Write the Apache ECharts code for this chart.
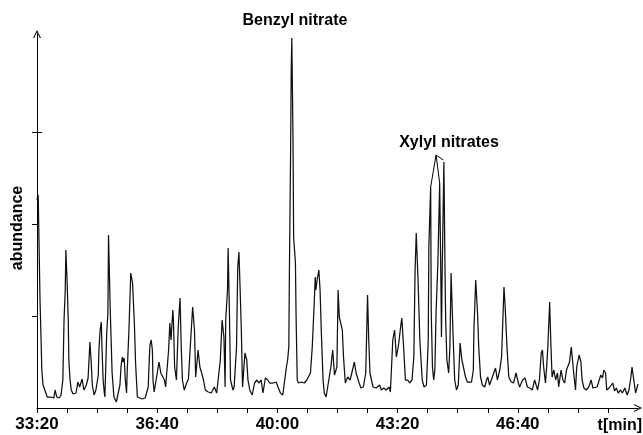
<!DOCTYPE html>
<html>
<head>
<meta charset="utf-8">
<script src="https://cdn.jsdelivr.net/npm/echarts@6/dist/echarts.min.js"></script>
<style>html,body{margin:0;padding:0;background:#fff}#c{width:643px;height:435px}</style>
</head>
<body>
<div id="c"></div>
<script>
// retention time in seconds
var times = [2000,2002,2003,2005,2007,2008,2010,2013,2017,2020,2023,2028,2030,2033,2037,2040,2043,2045,2047,2048,2050,2052,2053,2055,2057,2060,2065,2068,2071,2075,2078,2082,2085,2087,2088,2090,2092,2095,2098,2102,2103,2105,2107,2108,2110,2112,2113,2116,2118,2119,2122,2125,2128,2132,2138,2140,2142,2143,2145,2147,2149,2150,2153,2156,2159,2162,2164,2167,2170,2175,2180,2183,2185,2187,2188,2190,2192,2193,2195,2198,2203,2206,2209,2212,2214,2219,2221,2223,2226,2227,2229,2232,2235,2238,2240,2242,2245,2249,2252,2255,2259,2262,2264,2268,2271,2274,2277,2280,2285,2290,2295,2299,2305,2308,2311,2313,2314,2317,2318,2320,2322,2326,2328,2332,2334,2336,2338,2340,2342,2346,2349,2351,2354,2358,2362,2366,2369,2373,2376,2380,2384,2387,2389,2393,2398,2401,2405,2409,2415,2417,2419,2420,2422,2423,2424,2426,2427,2430,2431,2433,2435,2440,2445,2449,2452,2455,2458,2461,2463,2464,2466,2469,2471,2473,2476,2478,2481,2484,2489,2492,2495,2499,2501,2503,2506,2508,2510,2513,2517,2521,2525,2528,2531,2536,2539,2543,2547,2550,2552,2554,2559,2564,2570,2573,2577,2581,2586,2588,2592,2595,2598,2602,2605,2607,2610,2613,2617,2620,2624,2627,2629,2631,2634,2637,2641,2644,2648,2651,2652,2655,2656,2658,2660,2662,2664,2667,2670,2672,2673,2674,2677,2679,2680,2682,2685,2687,2689,2692,2695,2698,2701,2704,2707,2710,2713,2716,2719,2723,2726,2727,2730,2733,2735,2738,2741,2745,2748,2750,2753,2756,2760,2763,2766,2770,2773,2777,2779,2782,2785,2789,2793,2797,2801,2803,2808,2812,2816,2820,2824,2828,2831,2833,2836,2839,2841,2843,2846,2848,2850,2853,2855,2857,2860,2863,2866,2868,2872,2875,2878,2881,2883,2886,2889,2891,2893,2896,2898,2902,2905,2907,2910,2914,2918,2922,2925,2928,2932,2935,2938,2941,2943,2946,2948,2952,2955,2958,2961,2964,2967,2971,2974,2978,2982,2985,2988,2990,2993,2996,2998,3000];
// abundance (arbitrary units)
var abundance = [208,213,178,108,63,38,23,18,11,9,11,10,18,11,10,13,28,88,118,158,128,88,48,28,18,14,15,26,21,29,18,23,30,53,66,48,23,13,18,33,58,78,86,63,28,15,11,75,95,173,95,35,11,6,23,43,51,46,50,28,15,35,78,135,125,85,45,11,10,9,10,9,21,51,63,68,58,28,16,15,46,35,36,28,21,58,85,68,98,88,41,28,81,110,61,28,18,25,29,61,101,78,31,58,41,35,28,18,16,15,21,15,48,88,71,21,88,118,160,101,28,18,21,61,141,156,118,78,21,55,48,28,18,13,25,28,25,28,15,30,28,25,26,25,26,21,15,13,41,48,61,138,258,338,370,268,171,145,95,28,25,26,25,28,26,35,61,101,131,118,128,138,118,78,28,15,11,13,41,58,33,41,118,91,90,78,51,25,31,28,38,46,35,25,20,21,35,113,68,35,21,20,23,18,20,18,21,16,68,78,51,65,81,90,61,28,28,25,28,51,135,175,128,68,28,21,23,68,161,221,95,41,28,38,95,145,225,128,71,128,246,131,88,48,35,61,135,78,28,18,23,65,48,46,31,26,24,26,38,78,128,95,61,31,23,21,28,31,23,28,35,40,28,38,51,121,101,61,31,26,25,35,25,21,28,30,21,20,18,28,30,18,28,55,58,41,25,41,61,106,65,31,38,28,35,21,38,28,25,38,40,46,61,63,35,18,41,53,46,28,20,18,21,28,20,18,21,21,33,30,38,35,18,20,18,25,17,20,15,18,15,20,13,18,30,41,28,15,16,24];
var majorTicks = [2000, 2200, 2400, 2600, 2800];
var yTicks = [92, 184, 276];
var peakLabels = ['Benzyl nitrate', 'Xylyl nitrates'];
// bracket from the "Xylyl nitrates" label to its peaks: [time, abundance] pairs
var bracket = [[[2655, 221], [2664, 253]], [[2664, 253], [2670, 225]], [[2664, 253], [2676, 248]]];

function fmt(v) {
  var m = Math.floor(v / 60), s = Math.round(v - m * 60);
  return m + ':' + (s < 10 ? '0' + s : s);
}

var chev = 'path://M5,0 L10,10 L8.6,10 L5,2.8 L1.4,10 L0,10 Z';
var font = '"Liberation Sans", Arial, Helvetica, sans-serif';

var chart = echarts.init(document.getElementById('c'), null, {renderer: 'canvas'});
chart.setOption({
  animation: false,
  backgroundColor: '#fff',
  grid: {left: 37, right: 5, top: 34, bottom: 27, containLabel: false, outerBoundsMode: 'none'},
  xAxis: {
    type: 'value', min: 2000, max: 3000, interval: 50,
    axisLine: {lineStyle: {color: '#000', width: 1}, symbol: ['none', chev], symbolSize: [9, 8]},
    axisTick: {show: true, length: 5, lineStyle: {color: '#000'}},
    splitLine: {show: false},
    axisLabel: {
      margin: 8, color: '#000', fontFamily: font, fontWeight: 'bold', fontSize: 17,
      showMaxLabel: false,
      formatter: function (v) { return majorTicks.indexOf(v) >= 0 ? fmt(v) : ''; }
    }
  },
  yAxis: [{
    type: 'value', min: 0, max: 374,
    axisLine: {show: true, lineStyle: {color: '#000', width: 1}, symbol: ['none', chev], symbolSize: [9, 8]},
    axisTick: {show: true, length: 5, customValues: yTicks, lineStyle: {color: '#000'}},
    axisLabel: {show: false},
    splitLine: {show: false}
  }, {
    type: 'value', min: 0, max: 374, position: 'left',
    axisLine: {show: false},
    axisTick: {show: true, inside: true, length: 5, customValues: [yTicks[2]], lineStyle: {color: '#000'}},
    axisLabel: {show: false},
    splitLine: {show: false}
  }],
  series: [{
    type: 'line',
    data: times.map(function (t, i) { return [t, abundance[i]]; }),
    showSymbol: false,
    symbol: 'none',
    lineStyle: {color: '#111', width: 1.25},
    silent: true,
    markLine: {
      silent: true, symbol: ['none', 'none'], label: {show: false},
      lineStyle: {color: '#000', width: 1, type: 'solid'},
      data: bracket.map(function (p) { return [{coord: p[0]}, {coord: p[1]}]; })
    }
  }],
  graphic: [
    {type: 'text', x: 295, y: 21, style: {text: peakLabels[0], font: 'bold 16px ' + font, fill: '#000', align: 'center', verticalAlign: 'middle'}},
    {type: 'text', x: 449, y: 143, style: {text: peakLabels[1], font: 'bold 16px ' + font, fill: '#000', align: 'center', verticalAlign: 'middle'}},
    {type: 'text', x: 18, y: 228, rotation: Math.PI / 2, style: {text: 'abundance', font: 'bold 16px ' + font, fill: '#000', align: 'center', verticalAlign: 'middle'}},
    {type: 'text', x: 642, y: 426, style: {text: 't[min]', font: 'bold 16px ' + font, fill: '#000', align: 'right', verticalAlign: 'middle'}}
  ]
});
</script>
</body>
</html>
